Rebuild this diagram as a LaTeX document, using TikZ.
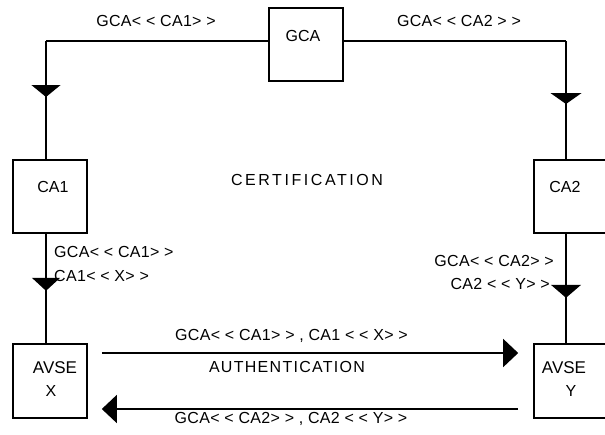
\documentclass[tikz,border=0pt]{standalone}
\usepackage{fontspec}
\setmainfont{Liberation Sans}
\newfontfamily\lblfont[LetterSpace=2]{Liberation Sans}
\newfontfamily\authfont[LetterSpace=8]{Liberation Sans}
\newfontfamily\certfont[LetterSpace=16]{Liberation Sans}
\usetikzlibrary{arrows.meta,decorations.markings}
\tikzset{
  box/.style={draw, line width=1.6pt, inner sep=0pt, minimum width=74pt, minimum height=73pt},
  conn/.style={line width=1.3pt},
  txt/.style={inner sep=0pt, text height=0.716em, text depth=0pt},
  boxtxt/.style={txt, font=\fontsize{16}{18}\selectfont},
  lbl/.style={txt, font=\fontsize{16}{18}\selectfont\lblfont},
  midtip/.style n args={3}{decoration={markings, mark=at position #1 with {\arrow{Triangle[width=#2,length=#3]}}}, postaction={decorate}},
  endtip/.style={-{Triangle[width=28pt,length=15pt]}}
}
\begin{document}
\begin{tikzpicture}[x=1pt,y=-1pt]
\useasboundingbox (0,0) rectangle (605,434);
\fill[white] (0,0) rectangle (605,434);
\clip (0,0) rectangle (605,434);
% boxes
\node[box] (gca) at (306,44.5) {};
\node[box] (ca1) at (50,196.5) {};
\node[box] (ca2) at (571,196.5) {};
\node[box, minimum height=74pt] (avsex) at (50,381) {};
\node[box, minimum height=74pt] (avsey) at (571,381) {};
% box texts
\node[boxtxt] (tgca) at (303,38) {GCA};
\node[boxtxt] (tca1) at (53,189) {CA1};
\node[boxtxt] (tca2) at (565,189) {CA2};
\node[boxtxt, font=\fontsize{17}{19}\selectfont] (tavx) at (55,370) {AVSE};
\node[boxtxt] (tx) at (51,393) {X};
\node[boxtxt, font=\fontsize{17}{19}\selectfont] (tavy) at (564,370) {AVSE};
\node[boxtxt] (ty) at (571,393) {Y};
% corner coordinates
\coordinate (tl) at (46,41);
\coordinate (tr) at (566,41);
% connectors
\draw[conn] (gca.west |- tl) -- (tl);
\draw[conn, midtip={56pt}{29pt}{12pt}] (tl) -- (ca1.north -| tl);
\draw[conn] (gca.east |- tr) -- (tr);
\draw[conn, midtip={63pt}{31pt}{11pt}] (tr) -- (ca2.north -| tr);
\draw[conn, midtip={57pt}{28pt}{13pt}] (ca1.south -| tl) -- (avsex.north -| tl);
\draw[conn, midtip={64pt}{30pt}{13pt}] (ca2.south -| tr) -- (avsey.north -| tr);
\draw[conn, endtip, shorten <=14pt, shorten >=15pt] ([yshift=28pt]avsex.east) -- ([yshift=28pt]avsey.west);
\draw[conn, endtip, shorten <=15pt, shorten >=14pt] ([yshift=-28pt]avsey.west) -- ([yshift=-28pt]avsex.east);
% labels
\node[lbl] (l1) at (156,23) {GCA< < CA1> >};
\node[lbl] (l2) at (459,23) {GCA< < CA2 > >};
\node[lbl, anchor=west] (l3) at (54,254) {GCA< < CA1> >};
\node[lbl, anchor=west] (l4) at (54,278) {CA1< < X> >};
\node[lbl, anchor=east] (l5) at (554,263) {GCA< < CA2> >};
\node[lbl, anchor=east] (l6) at (550,286) {CA2 < < Y> >};
\node[lbl] (l7) at (291.5,337) {GCA< < CA1> > , CA1 < < X> >};
\node[lbl] (l8) at (291,420) {GCA< < CA2> > , CA2 < < Y> >};
\node[txt, font=\fontsize{16}{18}\selectfont\certfont] (cert) at (307,182) {CERTIFICATION};
\node[txt, font=\fontsize{16}{18}\selectfont\authfont] (auth) at (287,369) {AUTHENTICATION};
\end{tikzpicture}
\end{document}
